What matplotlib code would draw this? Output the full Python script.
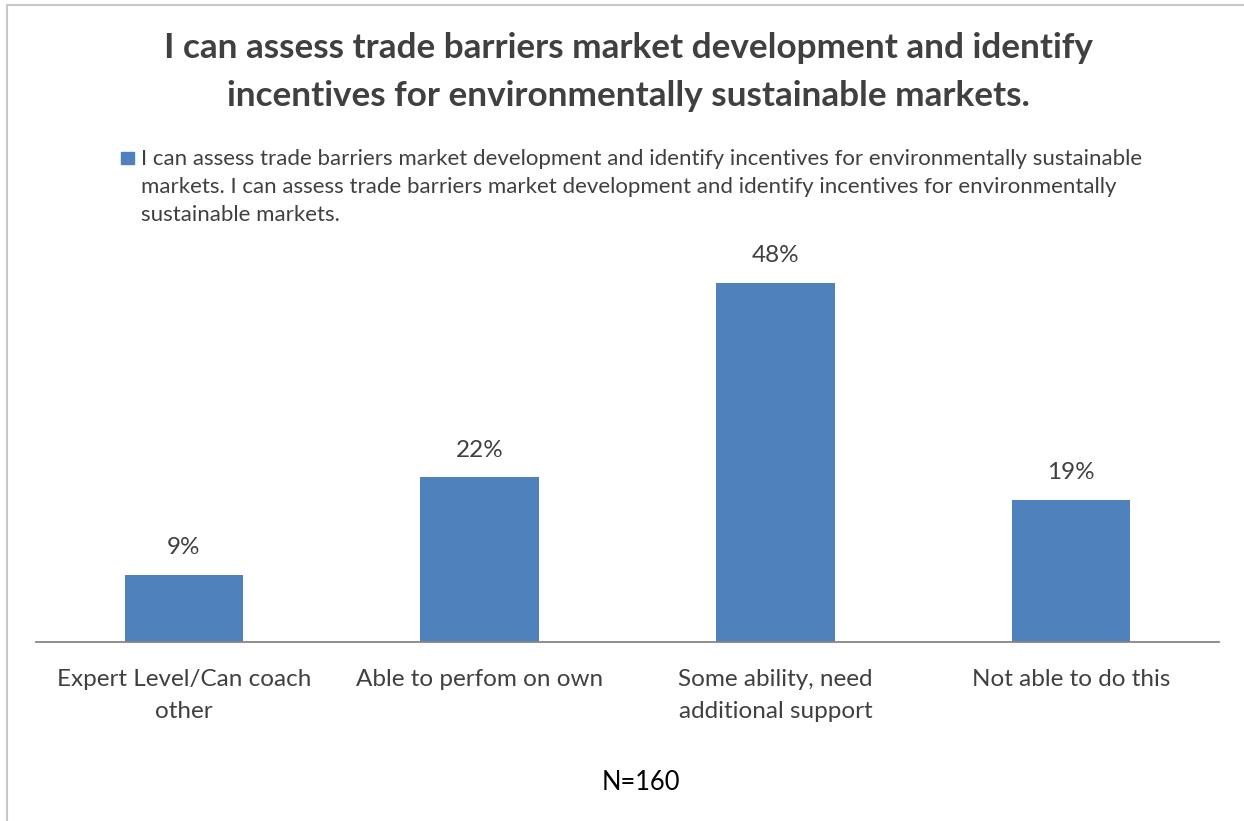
import matplotlib
matplotlib.use('Agg')
import matplotlib.pyplot as plt
from matplotlib.patches import Rectangle

plt.rcParams['font.family'] = ['Lato', 'DejaVu Sans']

categories = ['Expert Level/Can coach\nother', 'Able to perfom on own',
              'Some ability, need\nadditional support', 'Not able to do this']
shares = [0.09, 0.22, 0.48, 0.19]
labels = ['9%', '22%', '48%', '19%']

title = ('I can assess trade barriers market development and identify\n'
         'incentives for environmentally sustainable markets.')
series_name = ('I can assess trade barriers market development and identify incentives for environmentally sustainable\n'
               'markets. I can assess trade barriers market development and identify incentives for environmentally\n'
               'sustainable markets.')

bar_color = '#4F81BD'
text_color = '#404040'

W, H = 1244, 821
fig = plt.figure(figsize=(W / 100, H / 100), dpi=100)

# chart frame (only top and left edges fall inside the image)
fig.add_artist(Rectangle((7 / W, -0.1), 1.2, 1 - 5 / H + 0.1, transform=fig.transFigure,
                         fill=False, edgecolor='#c8c8c8', linewidth=1.5))

ax = fig.add_axes([36 / W, 1 - 642 / H, (1219 - 36) / W, 449 / H])
x = range(len(categories))
ax.bar(x, shares, width=0.4, color=bar_color, zorder=2)
ax.set_xlim(-0.5, len(categories) - 0.5)
ax.set_ylim(0, 0.6)

for i, (v, lab) in enumerate(zip(shares, labels)):
    ax.annotate(lab, (i, v), xytext=(0, 19.5), textcoords='offset points',
                ha='center', va='center', fontsize=17.5, color=text_color)

for s in ['top', 'right', 'left']:
    ax.spines[s].set_visible(False)
ax.spines['bottom'].set_color('#868686')
ax.spines['bottom'].set_linewidth(1.3)
ax.set_yticks([])
ax.set_xticks(list(x))
ax.set_xticklabels(categories, fontsize=17.5, color=text_color, linespacing=1.65)
ax.tick_params(axis='x', length=0, pad=19.6)

fig.text(628 / W, 1 - 72 / H, title, ha='center', va='center', fontsize=25.3,
         fontweight='bold', color=text_color, linespacing=1.6)

fig.add_artist(Rectangle((121 / W, 1 - 164 / H), 13 / W, 12 / H, transform=fig.transFigure,
                         color=bar_color))
fig.text(141 / W, 1 - 187 / H, series_name, ha='left', va='center', fontsize=16,
         color=text_color, linespacing=1.5)

fig.text(641 / W, 1 - 782 / H, 'N=160', ha='center', va='center', fontsize=18.4,
         color='black')

fig.savefig('out.png', dpi=100, facecolor='white')
